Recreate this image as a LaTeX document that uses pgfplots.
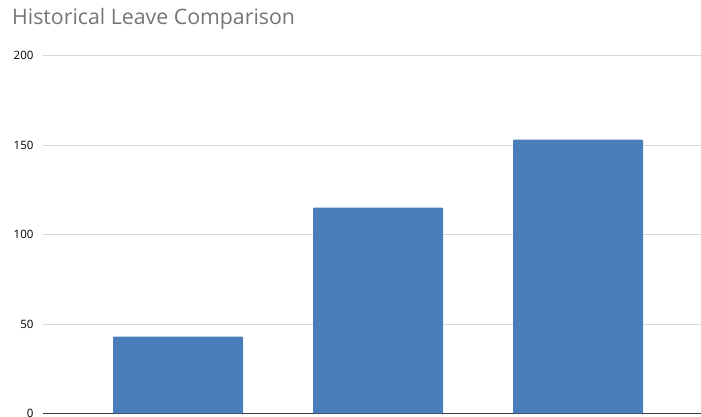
\documentclass[border=0pt]{standalone}
\usepackage{pgfplots}
\pgfplotsset{compat=1.18}
\usepackage{fontspec}
\setmainfont{Open Sans}
\definecolor{barblue}{HTML}{4A7EBB}
\definecolor{titlegray}{HTML}{757575}
\definecolor{gridgray}{HTML}{D9D9D9}
\begin{document}
\begin{tikzpicture}
  \useasboundingbox (0pt,0pt) rectangle (701pt,417pt);
  \clip (0pt,0pt) rectangle (701pt,417pt);
  \node[anchor=north west, inner sep=0pt, text=titlegray, font=\fontsize{21.3}{24}\selectfont]
    at (12pt,409pt) {Historical Leave Comparison};
  \begin{axis}[
    at={(43pt,3.5pt)}, anchor=south west,
    scale only axis,
    width=658pt, height=358pt,
    xmin=-0.675, xmax=2.615,
    ymin=0, ymax=200,
    ytick={0,50,100,150,200},
    xtick=\empty,
    ymajorgrids,
    grid style={gridgray, line width=0.8pt},
    axis lines=left,
    y axis line style={draw=none},
    x axis line style={black!75, line width=1pt, -},
    yticklabel style={font=\fontsize{11.5}{13}\selectfont, text=black, xshift=-6pt},
    /pgf/number format/assume math mode=true,
    major tick length=0pt,
    ybar, bar width=130pt,
    clip=false,
  ]
  \addplot[fill=barblue, draw=none, rounded corners=1pt] coordinates {
    (0,43) (1,115) (2,153)
  };
  \end{axis}
\end{tikzpicture}
\end{document}
